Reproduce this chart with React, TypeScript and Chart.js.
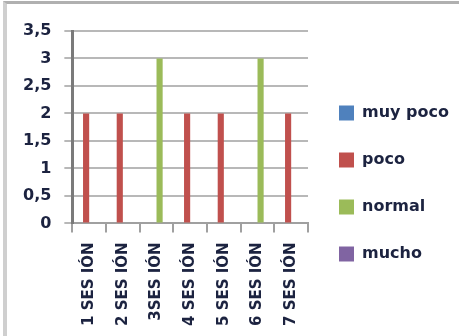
import React, { useEffect, useRef } from "react";
import { Chart, registerables } from "chart.js";

Chart.register(...registerables);

const categories = ["1 SES IÓN", "2 SES IÓN", "3SES IÓN", "4 SES IÓN", "5 SES IÓN", "6 SES IÓN", "7 SES IÓN"];
const muyPoco = [0, 0, 0, 0, 0, 0, 0];
const poco = [2, 2, 0, 2, 2, 0, 2];
const normal = [0, 0, 3, 0, 0, 3, 0];
const mucho = [0, 0, 0, 0, 0, 0, 0];
const seriesNames = ["muy poco", "poco", "normal", "mucho"];
const seriesColors = ["#4F81BD", "#C0504D", "#9BBB59", "#8064A2"];

const TEXT = "#1c2340";
const FONT = "'DejaVu Sans', sans-serif";

export default function App() {
  const ref = useRef<HTMLCanvasElement | null>(null);

  useEffect(() => {
    if (!ref.current) return;
    const values = [muyPoco, poco, normal, mucho];
    const chart = new Chart(ref.current, {
      type: "bar",
      data: {
        labels: categories,
        datasets: seriesNames.map((name, i) => ({
          label: name,
          data: values[i],
          backgroundColor: seriesColors[i],
          borderWidth: 0,
          categoryPercentage: 0.73,
          barPercentage: 1,
        })),
      },
      options: {
        animation: false,
        responsive: true,
        maintainAspectRatio: false,
        layout: { padding: { left: 10, top: 31, bottom: 0, right: 0 } },
        plugins: {
          tooltip: { enabled: false },
          legend: {
            position: "right",
            maxWidth: 200,
            labels: {
              boxWidth: 15,
              boxHeight: 15,
              padding: 31,
              color: TEXT,
              font: { family: FONT, size: 16, weight: "bold" },
            },
          },
        },
        scales: {
          x: {
            grid: {
              drawOnChartArea: false,
              drawTicks: true,
              tickLength: 9,
              color: "#a0a0a0",
              lineWidth: 2,
            },
            border: { color: "#a0a0a0", width: 2 },
            ticks: {
              minRotation: 90,
              maxRotation: 90,
              padding: 10,
              color: TEXT,
              font: { family: FONT, size: 15, weight: "bold" },
            },
          },
          y: {
            min: 0,
            max: 3.5,
            grid: {
              color: "#b8b8b8",
              lineWidth: 2,
              drawTicks: true,
              tickLength: 8,
            },
            border: { color: "#7a7a7a", width: 3 },
            ticks: {
              stepSize: 0.5,
              padding: 13,
              color: TEXT,
              font: { family: FONT, size: 16, weight: "bold" },
              callback: (v: any) => String(v).replace(".", ","),
            },
          },
        },
      },
    });
    return () => chart.destroy();
  }, []);

  return (
    <div style={{ position: "fixed", top: 0, left: 0, width: 459, height: 336, background: "#fff" }}>
      <canvas ref={ref} style={{ width: "100%", height: "100%" }} />
      <div
        style={{
          position: "absolute",
          top: 1,
          left: 3,
          right: -10,
          bottom: -10,
          borderTop: "3px solid #b0b0b0",
          borderLeft: "4px solid #cfcfcf",
          pointerEvents: "none",
        }}
      />
    </div>
  );
}
